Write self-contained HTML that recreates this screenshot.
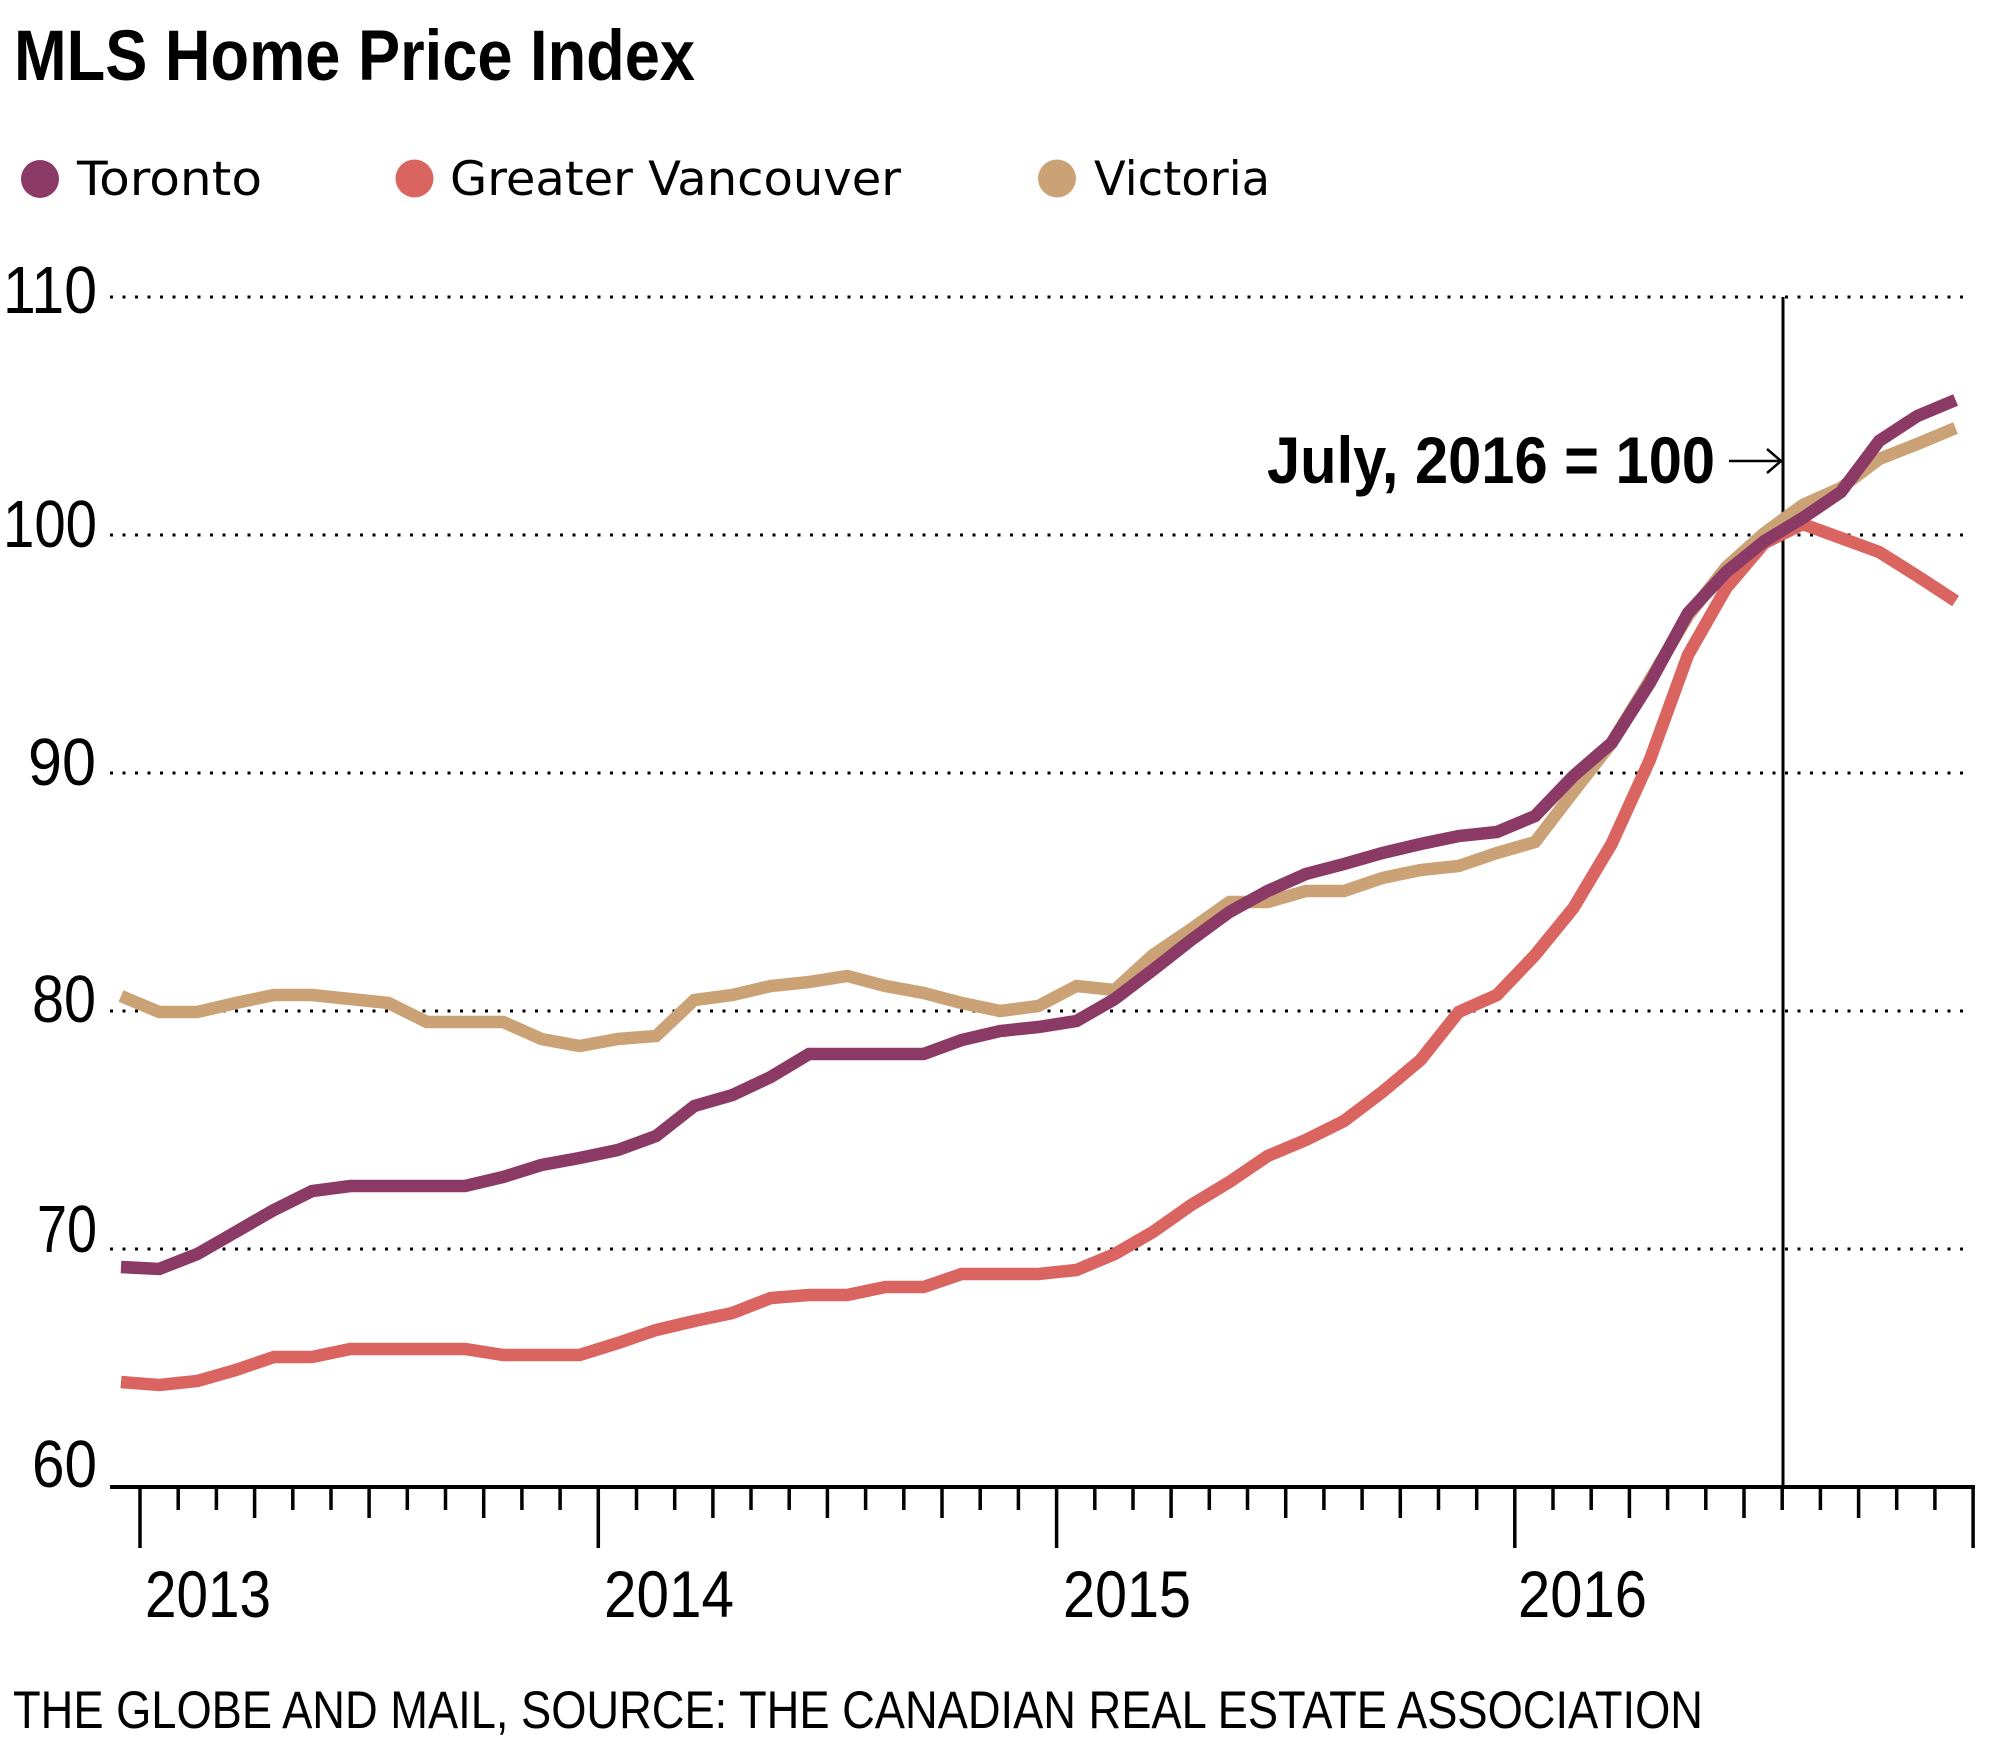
<!DOCTYPE html>
<html>
<head>
<meta charset="utf-8">
<style>
html,body{margin:0;padding:0;background:#fff;}
svg{display:block;}
text{font-family:"Liberation Sans",Arial,sans-serif;fill:#000;}
.leg{font-family:"DejaVu Sans","Liberation Sans",sans-serif;font-size:47px;}
</style>
</head>
<body>
<svg width="2000" height="1762" viewBox="0 0 2000 1762" xmlns="http://www.w3.org/2000/svg">
<rect width="2000" height="1762" fill="#fff"/>

<!-- Title -->
<text x="14" y="80" font-size="71" font-weight="bold" textLength="681" lengthAdjust="spacingAndGlyphs">MLS Home Price Index</text>

<!-- Legend -->
<circle cx="40" cy="179" r="19" fill="#8a3a64"/>
<text class="leg" x="77" y="195" textLength="185" lengthAdjust="spacingAndGlyphs">Toronto</text>
<circle cx="414.5" cy="178.5" r="19" fill="#d96460"/>
<text class="leg" x="450" y="195" textLength="451" lengthAdjust="spacingAndGlyphs">Greater Vancouver</text>
<circle cx="1057" cy="178.5" r="19" fill="#caa275"/>
<text class="leg" x="1094" y="195" textLength="176" lengthAdjust="spacingAndGlyphs">Victoria</text>

<!-- Gridlines (dotted) -->
<g stroke="#000" stroke-width="3" stroke-dasharray="3 9.5" fill="none">
<line x1="110" y1="297" x2="1972" y2="297"/>
<line x1="110" y1="535" x2="1972" y2="535"/>
<line x1="110" y1="773" x2="1972" y2="773"/>
<line x1="110" y1="1011" x2="1972" y2="1011"/>
<line x1="110" y1="1249" x2="1972" y2="1249"/>
</g>

<!-- Y labels -->
<g font-size="67">
<text x="3" y="313" textLength="94" lengthAdjust="spacingAndGlyphs">110</text>
<text x="3" y="547" textLength="94" lengthAdjust="spacingAndGlyphs">100</text>
<text x="28" y="785" textLength="68" lengthAdjust="spacingAndGlyphs">90</text>
<text x="32" y="1022" textLength="64" lengthAdjust="spacingAndGlyphs">80</text>
<text x="37" y="1252" textLength="60" lengthAdjust="spacingAndGlyphs">70</text>
<text x="32" y="1487" textLength="65" lengthAdjust="spacingAndGlyphs">60</text>
</g>

<!-- Vertical reference line -->
<line x1="1783" y1="297" x2="1783" y2="1487" stroke="#000" stroke-width="3"/>

<!-- Series -->
<g fill="none" stroke-width="12.5" stroke-linejoin="miter" stroke-miterlimit="3" stroke-linecap="butt">
<polyline stroke="#caa275" points="121,996 159.2,1012 197.4,1012 235.7,1003 273.9,995 312.1,995 350.3,999 388.5,1003 426.8,1022 465,1022 503.2,1022 541.4,1039 579.6,1046 617.9,1039 656.1,1036 694.3,1000 732.5,995 770.7,986 809,982 847.2,976 885.4,986 923.6,993 961.8,1003 1000.1,1011 1038.3,1006 1076.5,986 1114.7,990 1152.9,955 1191.2,929 1229.4,902 1267.6,902 1305.8,891 1344,891 1382.3,878 1420.5,870 1458.7,866 1496.9,853 1535.1,842 1573.4,792 1611.6,743 1649.8,680 1688,616 1726.2,567 1764.5,533 1802.7,505 1840.9,488 1879.1,459 1917.3,444 1955.6,428"/>
<polyline stroke="#d96460" points="121,1382 159.2,1385 197.4,1381 235.7,1370 273.9,1357 312.1,1357 350.3,1349 388.5,1349 426.8,1349 465,1349 503.2,1355 541.4,1355 579.6,1355 617.9,1343 656.1,1330 694.3,1321 732.5,1313 770.7,1298 809,1295 847.2,1295 885.4,1287 923.6,1287 961.8,1274 1000.1,1274 1038.3,1274 1076.5,1270 1114.7,1254 1152.9,1232 1191.2,1205 1229.4,1182 1267.6,1156 1305.8,1140 1344,1121 1382.3,1092 1420.5,1060 1458.7,1012 1496.9,995 1535.1,955 1573.4,908 1611.6,844 1649.8,760 1688,655 1726.2,588 1764.5,543 1802.7,524 1840.9,538 1879.1,552 1917.3,576 1955.6,601"/>
<polyline stroke="#8a3a64" points="121,1267 159.2,1269 197.4,1254 235.7,1232 273.9,1210 312.1,1191 350.3,1186 388.5,1186 426.8,1186 465,1186 503.2,1177 541.4,1165 579.6,1158 617.9,1150 656.1,1136 694.3,1106 732.5,1095 770.7,1077 809,1054 847.2,1054 885.4,1054 923.6,1054 961.8,1040 1000.1,1031 1038.3,1027 1076.5,1021 1114.7,999 1152.9,970 1191.2,940 1229.4,912 1267.6,891 1305.8,874 1344,864 1382.3,853 1420.5,844 1458.7,836 1496.9,832 1535.1,816 1573.4,776 1611.6,743 1649.8,683 1688,613 1726.2,572 1764.5,541 1802.7,518 1840.9,492 1879.1,441 1917.3,416 1955.6,400"/>
</g>

<!-- Annotation -->
<text x="1267" y="483" font-size="66" font-weight="bold" textLength="448" lengthAdjust="spacingAndGlyphs">July, 2016 = 100</text>
<g stroke="#000" stroke-width="2.5" fill="none">
<line x1="1729" y1="461" x2="1780" y2="461"/>
<polyline points="1767,449 1781,461 1767,473"/>
</g>

<!-- X axis -->
<line x1="110" y1="1487" x2="1975" y2="1487" stroke="#000" stroke-width="4"/>
<path stroke="#000" stroke-width="3.5" fill="none" d="
M140 1487V1548 M178.2 1487V1510 M216.4 1487V1510 M254.6 1487V1518 M292.8 1487V1510 M331 1487V1510 M369.1 1487V1518 M407.3 1487V1510 M445.5 1487V1510 M483.7 1487V1518 M521.9 1487V1510 M560.1 1487V1510
M598.3 1487V1548 M636.5 1487V1510 M674.7 1487V1510 M712.9 1487V1518 M751 1487V1510 M789.2 1487V1510 M827.4 1487V1518 M865.6 1487V1510 M903.8 1487V1510 M942 1487V1518 M980.2 1487V1510 M1018.4 1487V1510
M1056.6 1487V1548 M1094.8 1487V1510 M1133 1487V1510 M1171.1 1487V1518 M1209.3 1487V1510 M1247.5 1487V1510 M1285.7 1487V1518 M1323.9 1487V1510 M1362.1 1487V1510 M1400.3 1487V1518 M1438.5 1487V1510 M1476.7 1487V1510
M1514.8 1487V1548 M1553 1487V1510 M1591.2 1487V1510 M1629.4 1487V1518 M1667.6 1487V1510 M1705.8 1487V1510 M1744 1487V1518 M1782.2 1487V1510 M1820.4 1487V1510 M1858.6 1487V1518 M1896.7 1487V1510 M1934.9 1487V1510
M1973.1 1487V1548"/>

<!-- Year labels -->
<g font-size="66">
<text x="145" y="1617" textLength="126" lengthAdjust="spacingAndGlyphs">2013</text>
<text x="604" y="1617" textLength="130" lengthAdjust="spacingAndGlyphs">2014</text>
<text x="1063" y="1617" textLength="128" lengthAdjust="spacingAndGlyphs">2015</text>
<text x="1518" y="1617" textLength="129" lengthAdjust="spacingAndGlyphs">2016</text>
</g>

<!-- Footer -->
<text x="13" y="1728" font-size="53" textLength="1690" lengthAdjust="spacingAndGlyphs">THE GLOBE AND MAIL, SOURCE: THE CANADIAN REAL ESTATE ASSOCIATION</text>
</svg>
</body>
</html>
